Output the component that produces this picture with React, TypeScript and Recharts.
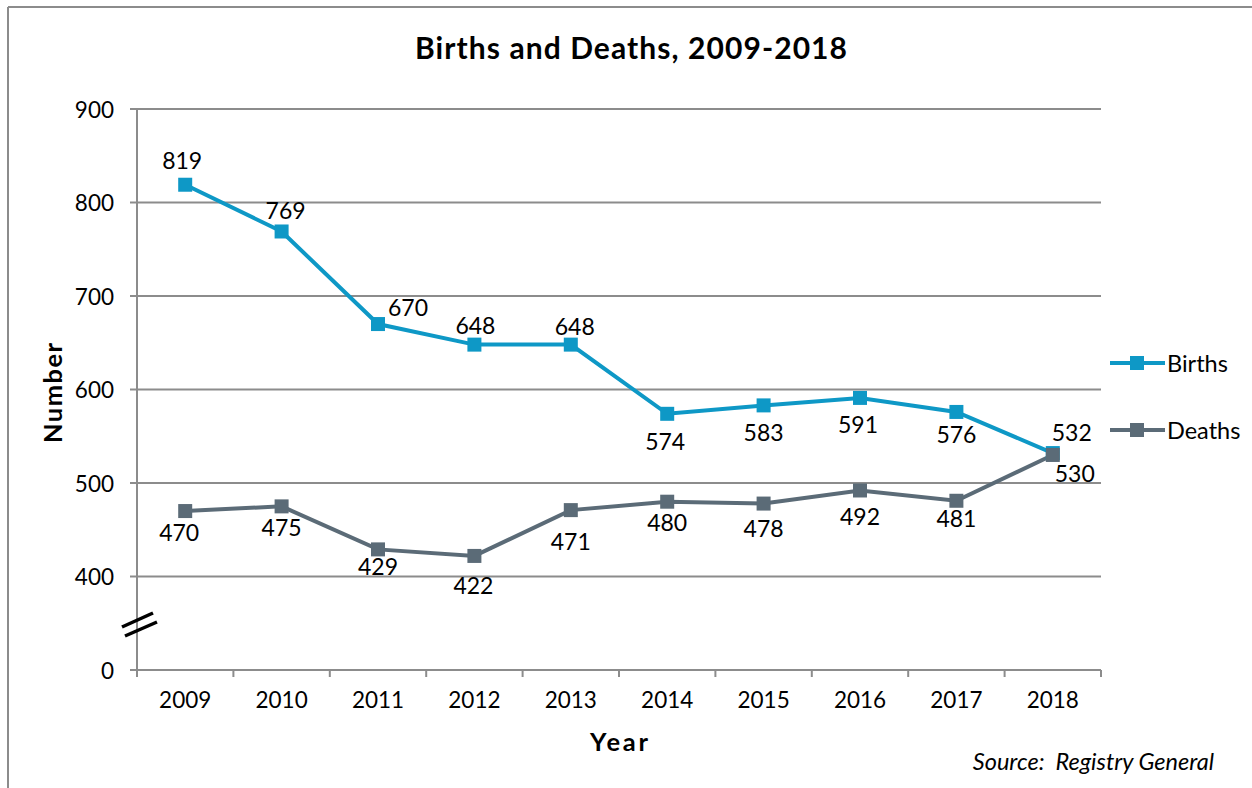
import React from "react";
import { LineChart, Line, XAxis, YAxis, CartesianGrid, LabelList } from "recharts";

const years = ["2009", "2010", "2011", "2012", "2013", "2014", "2015", "2016", "2017", "2018"];
const births = [819, 769, 670, 648, 648, 574, 583, 591, 576, 532];
const deaths = [470, 475, 429, 422, 471, 480, 478, 492, 481, 530];
const yTicks = [300, 400, 500, 600, 700, 800, 900];

// label placement (dx, dy of text centre from the point)
const birthLabelOffsets: [number, number][] = [
  [-3, -25], [4, -21], [30, -17], [1, -20], [4, -19], [-2, 27], [0, 27], [-2, 26], [0, 22], [19, -21],
];
const deathLabelOffsets: [number, number][] = [
  [-6, 21], [0, 21], [0, 17], [-1, 29], [0, 31], [0, 20], [0, 24], [0, 26], [0, 17], [22, 18],
];

const data = years.map((y, i) => ({ year: y, Births: births[i], Deaths: deaths[i] }));

const FONT = "Lato, 'Open Sans', sans-serif";
const BIRTH_COLOR = "#0E98C6";
const DEATH_COLOR = "#5B6B77";
const GRID = "#8C8C8C";
const W = 1252;
const H = 788;
const M = { top: 109, right: 151, bottom: 88, left: 37 };
const Y_W = 100;
const X_H = 30;
const PLOT_W = W - M.left - M.right - Y_W;
const BAND = PLOT_W / years.length;

const Square = (color: string) => (props: any) => {
  const { cx, cy, index } = props;
  if (cx == null || cy == null) return <g key={`n-${index}`} />;
  return <rect key={`sq-${index}`} x={cx - 7} y={cy - 7} width={14} height={14} fill={color} />;
};

const makeLabel = (offsets: [number, number][]) => (props: any) => {
  const { x, y, value, index } = props;
  const [dx, dy] = offsets[index] || [0, -20];
  return (
    <text
      x={x + dx}
      y={y + dy}
      textAnchor="middle"
      dominantBaseline="central"
      fontFamily={FONT}
      fontSize={23}
      fill="#000"
    >
      {value}
    </text>
  );
};

const XTick = (props: any) => {
  const { x, y, payload, index } = props;
  const lineY = y - 8;
  return (
    <g>
      <line x1={x - BAND / 2} x2={x - BAND / 2} y1={lineY} y2={lineY + 7} stroke={GRID} strokeWidth={2} />
      {index === years.length - 1 && (
        <line x1={x + BAND / 2} x2={x + BAND / 2} y1={lineY} y2={lineY + 7} stroke={GRID} strokeWidth={2} />
      )}
      <text x={x} y={lineY + 38} textAnchor="middle" fontFamily={FONT} fontSize={22.5} fill="#000">
        {payload.value}
      </text>
    </g>
  );
};

const YTick = (props: any) => {
  const { x, y, payload } = props;
  const axisX = x + 8;
  const isZero = payload.value === 300;
  return (
    <g>
      <line x1={axisX - 7} x2={axisX} y1={y} y2={y} stroke={GRID} strokeWidth={2} />
      <text x={axisX - 23} y={y} textAnchor="end" dominantBaseline="central" fontFamily={FONT} fontSize={22.5} fill="#000">
        {isZero ? "0" : payload.value}
      </text>
      {isZero && (
        <g>
          <line x1={axisX - 15} y1={y - 43} x2={axisX + 16} y2={y - 57} stroke="#000" strokeWidth={3.5} />
          <line x1={axisX - 12} y1={y - 34} x2={axisX + 20} y2={y - 48} stroke="#000" strokeWidth={3.5} />
        </g>
      )}
    </g>
  );
};

const legendItems = [
  { name: "Births", color: BIRTH_COLOR },
  { name: "Deaths", color: DEATH_COLOR },
];

export default function App() {
  return (
    <div style={{ position: "absolute", left: 0, top: 0, width: W, height: H, background: "#fff", overflow: "hidden" }}>
      <svg width={W} height={H} style={{ position: "absolute", left: 0, top: 0 }}>
        <line x1={8} y1={7} x2={W} y2={7} stroke={GRID} strokeWidth={2} />
        <line x1={8} y1={7} x2={8} y2={H} stroke={GRID} strokeWidth={2} />
        <text x={631} y={47} textAnchor="middle" dominantBaseline="central" fontFamily={FONT} fontWeight="bold" fontSize={30} textLength={432} lengthAdjust="spacing" fill="#000">
          Births and Deaths, 2009-2018
        </text>
        <text x={52} y={393} textAnchor="middle" dominantBaseline="central" fontFamily={FONT} fontWeight="bold" fontSize={25.5} textLength={100} lengthAdjust="spacing" fill="#000" transform="rotate(-90 52 393)">
          Number
        </text>
        <text x={619} y={741} textAnchor="middle" dominantBaseline="central" fontFamily={FONT} fontWeight="bold" fontSize={25.5} textLength={58} lengthAdjust="spacing" fill="#000">
          Year
        </text>
        <text x={1214} y={761} textAnchor="end" dominantBaseline="central" fontFamily={FONT} fontStyle="italic" fontSize={23.5} fill="#000" style={{ whiteSpace: "pre" }}>
          {"Source:  Registry General"}
        </text>
        {legendItems.map((it, i) => {
          const cy = 363 + i * 67;
          return (
            <g key={it.name}>
              <line x1={1110} x2={1165} y1={cy} y2={cy} stroke={it.color} strokeWidth={4} />
              <rect x={1130} y={cy - 7} width={14} height={14} fill={it.color} />
              <text x={1167} y={cy} dominantBaseline="central" fontFamily={FONT} fontSize={23.5} fill="#000">
                {it.name}
              </text>
            </g>
          );
        })}
      </svg>
      <div style={{ position: "absolute", left: 0, top: 0 }}>
        <LineChart width={W} height={H} data={data} margin={M}>
          <CartesianGrid vertical={false} stroke={GRID} strokeWidth={2} />
          <XAxis
            dataKey="year"
            height={X_H}
            tick={<XTick />}
            tickLine={false}
            axisLine={{ stroke: GRID, strokeWidth: 2 }}
            interval={0}
            padding={{ left: BAND / 2, right: BAND / 2 }}
          />
          <YAxis
            width={Y_W}
            domain={[300, 900]}
            ticks={yTicks}
            type="number"
            tick={<YTick />}
            tickLine={false}
            axisLine={{ stroke: GRID, strokeWidth: 2 }}
            interval={0}
          />
          <Line
            type="linear"
            dataKey="Births"
            stroke={BIRTH_COLOR}
            strokeWidth={4}
            dot={Square(BIRTH_COLOR)}
            activeDot={false}
            isAnimationActive={false}
          >
            <LabelList dataKey="Births" content={makeLabel(birthLabelOffsets)} />
          </Line>
          <Line
            type="linear"
            dataKey="Deaths"
            stroke={DEATH_COLOR}
            strokeWidth={4}
            dot={Square(DEATH_COLOR)}
            activeDot={false}
            isAnimationActive={false}
          >
            <LabelList dataKey="Deaths" content={makeLabel(deathLabelOffsets)} />
          </Line>
        </LineChart>
      </div>
    </div>
  );
}
